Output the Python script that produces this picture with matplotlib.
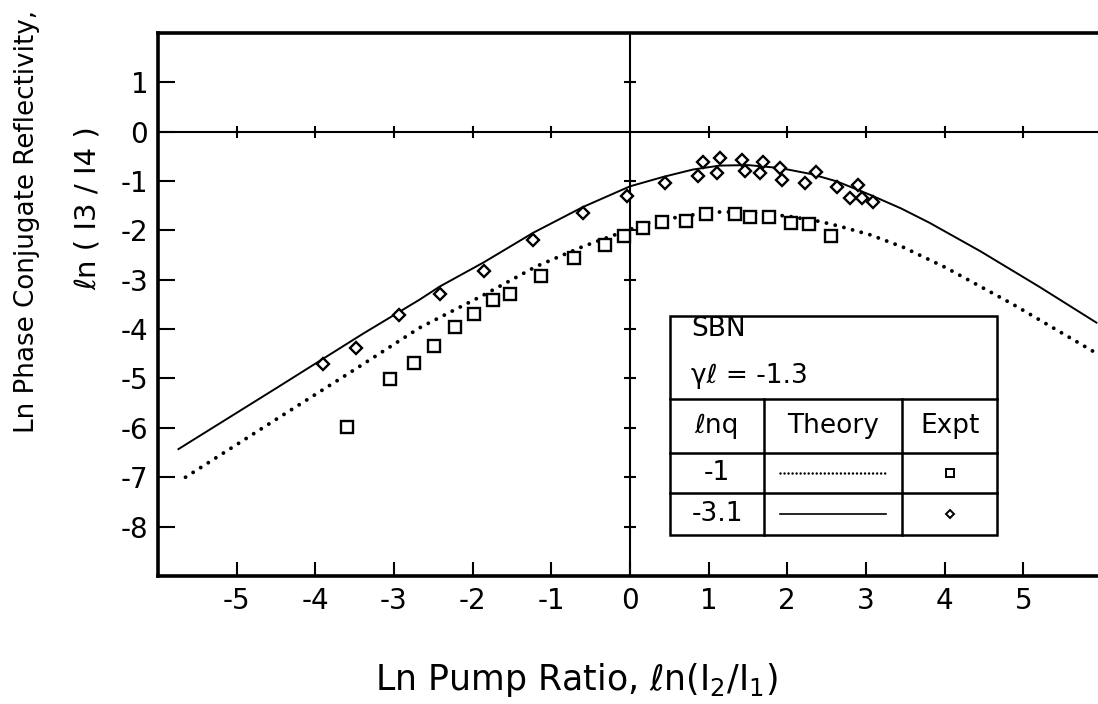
import matplotlib
matplotlib.use("Agg")
import matplotlib.pyplot as plt
from matplotlib.patches import Rectangle

plt.rcParams['font.family'] = ['DejaVu Sans']
plt.rcParams['axes.unicode_minus'] = False

# theory, ln q = -3.1 (solid line)
solid_x = [-5.74, -4.5, -3.4, -2.67, -2.42, -1.86, -1.23, -0.60, 0.0, 0.42, 0.8,
           1.14, 1.5, 1.91, 2.3, 2.63, 3.05, 3.45, 3.81, 4.45, 5.2, 5.93]
solid_y = [-6.43, -5.2, -4.1, -3.40, -3.14, -2.65, -2.05, -1.53, -1.11, -0.92, -0.77,
           -0.69, -0.68, -0.74, -0.86, -1.01, -1.28, -1.56, -1.85, -2.42, -3.14, -3.87]

# theory, ln q = -1 (dotted line)
dotted_x = [-5.65, -4.5, -3.5, -2.67, -1.86, -1.19, -0.6, 0.0, 0.3, 0.55, 0.83,
            1.14, 1.5, 2.03, 2.41, 2.67, 3.05, 3.47, 4.02, 4.87, 5.93]
dotted_y = [-7.00, -5.83, -4.82, -3.97, -3.31, -2.73, -2.33, -1.98, -1.82, -1.75, -1.68,
            -1.63, -1.63, -1.72, -1.82, -1.92, -2.09, -2.34, -2.76, -3.50, -4.49]

# experiment, ln q = -1 (squares)
square_x = [-3.60, -3.05, -2.74, -2.49, -2.22, -1.98, -1.74, -1.52, -1.13, -0.71, -0.32,
            -0.08, 0.17, 0.41, 0.71, 0.97, 1.33, 1.52, 1.77, 2.05, 2.27, 2.56]
square_y = [-5.99, -5.02, -4.68, -4.34, -3.95, -3.70, -3.42, -3.28, -2.92, -2.57, -2.29,
            -2.12, -1.95, -1.84, -1.82, -1.68, -1.68, -1.74, -1.74, -1.85, -1.88, -2.11]

# experiment, ln q = -3.1 (diamonds)
diamond_x = [-3.90, -3.48, -2.94, -2.42, -1.86, -1.23, -0.60, -0.04, 0.44, 0.87, 0.93,
             1.10, 1.14, 1.42, 1.46, 1.65, 1.69, 1.91, 1.93, 2.22, 2.36, 2.63, 2.80,
             2.90, 2.95, 3.09]
diamond_y = [-4.71, -4.38, -3.72, -3.30, -2.83, -2.19, -1.66, -1.30, -1.04, -0.91, -0.61,
             -0.84, -0.54, -0.57, -0.79, -0.84, -0.61, -0.74, -0.99, -1.04, -0.81, -1.13,
             -1.35, -1.09, -1.35, -1.43]

x_ticks = [-5, -4, -3, -2, -1, 0, 1, 2, 3, 4, 5]
y_ticks = [1, 0, -1, -2, -3, -4, -5, -6, -7, -8]

fig = plt.figure(figsize=(10.98, 7.04), dpi=100)
ax = fig.add_axes([0.1439, 0.1818, 0.8597, 0.7717])
ax.set_xlim(-6, 6)
ax.set_ylim(-9, 2)

for side in ['left', 'bottom', 'top']:
    ax.spines[side].set_linewidth(2.6)
ax.spines['right'].set_visible(False)

ax.set_xticks(x_ticks)
ax.set_yticks(y_ticks)
ax.tick_params(axis='x', direction='in', length=10, width=1.5, pad=8, labelsize=20)
ax.tick_params(axis='y', direction='in', length=12, width=1.5, pad=7, labelsize=20)

# cross lines through the origin with small crossing ticks
ax.axhline(0, color='black', lw=1.5)
ax.axvline(0, color='black', lw=1.5)
cx = [t for t in x_ticks if t != 0]
cy = [t for t in y_ticks if t != 0]
ax.plot(cx, [0] * len(cx), ls='none', marker='|', ms=8, mew=1.5, color='black')
ax.plot([0] * len(cy), cy, ls='none', marker='_', ms=8.5, mew=1.5, color='black')

# curves
ax.plot(solid_x, solid_y, color='black', lw=1.4)
ax.plot(dotted_x, dotted_y, color='black', lw=2.8, linestyle=(0, (0.01, 2.3)),
        dash_capstyle='round')
ax.plot(square_x, square_y, ls='none', marker='s', ms=8, mfc='white', mec='black', mew=1.7)
ax.plot(diamond_x, diamond_y, ls='none', marker='D', ms=6.3, mfc='white', mec='black', mew=1.7)

# key table
x0, x1, x2, x3 = 0.508, 1.706, 3.46, 4.667
ya, yb, yc, yd, ye = -3.737, -5.406, -6.517, -7.325, -8.168
ax.add_patch(Rectangle((x0, ye), x3 - x0, ya - ye, facecolor='white', edgecolor='black',
                       lw=1.8, zorder=3))
for yy in [yb, yc, yd]:
    ax.plot([x0, x3], [yy, yy], color='black', lw=1.8, zorder=4)
for xx in [x1, x2]:
    ax.plot([xx, xx], [ye, yb], color='black', lw=1.8, zorder=4)

ax.text(x0 + 0.27, -4.0, 'SBN', fontsize=19, va='center', ha='left', zorder=5)
ax.text(x0 + 0.27, -4.95, 'γℓ = -1.3', fontsize=19, va='center', ha='left', zorder=5)
ax.text((x0 + x1) / 2, (yb + yc) / 2, 'ℓnq', fontsize=19, va='center', ha='center', zorder=5)
ax.text((x1 + x2) / 2, (yb + yc) / 2, 'Theory', fontsize=19, va='center', ha='center', zorder=5)
ax.text((x2 + x3) / 2, (yb + yc) / 2, 'Expt', fontsize=19, va='center', ha='center', zorder=5)
ax.text((x0 + x1) / 2, (yc + yd) / 2, '-1', fontsize=19, va='center', ha='center', zorder=5)
ax.text((x0 + x1) / 2, (yd + ye) / 2, '-3.1', fontsize=19, va='center', ha='center', zorder=5)

mid = (x2 + x3) / 2
ax.plot([x1 + 0.2, x2 - 0.2], [(yc + yd) / 2] * 2, color='black', lw=1.8,
        linestyle=(0, (0.01, 1.6)), dash_capstyle='round', zorder=5)
ax.plot([x1 + 0.2, x2 - 0.2], [(yd + ye) / 2] * 2, color='black', lw=1.2, zorder=5)
ax.plot([mid], [(yc + yd) / 2], marker='s', ms=5.5, mfc='white', mec='black', mew=1.4, zorder=5)
ax.plot([mid], [(yd + ye) / 2], marker='D', ms=4.5, mfc='white', mec='black', mew=1.4, zorder=5)

# axis titles
fig.text(0.5246, 0.02, r'Ln Pump Ratio, ℓn(I$_2$/I$_1$)', fontsize=25,
         ha='center', va='baseline')
fig.text(0.025, 0.686, 'Ln Phase Conjugate Reflectivity,', fontsize=18.8,
         rotation=90, ha='center', va='center')
fig.text(0.080, 0.704, 'ℓn ( I3 / I4 )', fontsize=21, rotation=90, ha='center', va='center')

fig.savefig('out.png', dpi=100)
